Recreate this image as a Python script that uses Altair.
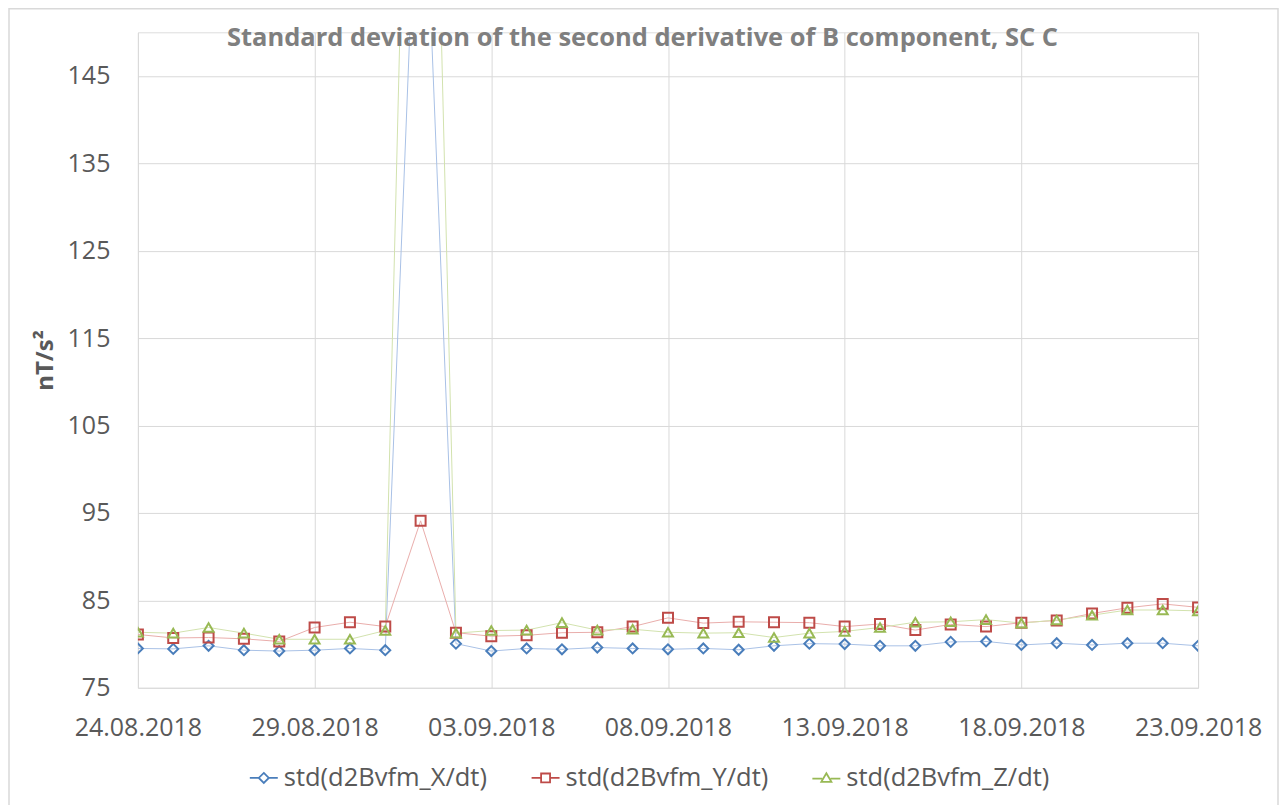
import altair as alt
import pandas as pd

# ---- data ----
dates = [d.strftime("%Y-%m-%d") for d in pd.date_range("2018-08-24", "2018-09-23", freq="D")]
series_names = ["std(d2Bvfm_X/dt)", "std(d2Bvfm_Y/dt)", "std(d2Bvfm_Z/dt)"]

x_vals = [79.5, 79.45, 79.8, 79.3, 79.2, 79.3, 79.5, 79.3, 181.0, 80.05,
          79.2, 79.5, 79.4, 79.6, 79.5, 79.4, 79.5, 79.35, 79.8, 80.05,
          80.0, 79.8, 79.8, 80.25, 80.3, 79.9, 80.1, 79.9, 80.1, 80.1, 79.8]
y_vals = [81.1, 80.7, 80.75, 80.6, 80.3, 81.9, 82.5, 82.0, 94.1, 81.3,
          80.9, 81.0, 81.3, 81.35, 82.0, 83.0, 82.4, 82.55, 82.5, 82.45,
          82.0, 82.3, 81.6, 82.25, 82.0, 82.45, 82.7, 83.5, 84.15, 84.6, 84.2]
z_vals = [81.35, 81.25, 81.9, 81.25, 80.55, 80.55, 80.55, 81.55, 247.0, 81.25,
          81.55, 81.6, 82.45, 81.6, 81.7, 81.35, 81.25, 81.3, 80.75, 81.25,
          81.45, 81.9, 82.5, 82.55, 82.8, 82.4, 82.75, 83.3, 83.9, 83.9, 83.8]

y_ticks = [75, 85, 95, 105, 115, 125, 135, 145]
x_tick_dates = ["2018-08-24", "2018-08-29", "2018-09-03", "2018-09-08",
                "2018-09-13", "2018-09-18", "2018-09-23"]
title_text = "Standard deviation of the second derivative of B component, SC C"

# ---- styles ----
FONT = "Open Sans"
TXT = "#595959"
GRID = "#D9D9D9"
line_colors = ["#A9C1E6", "#E9ADAB", "#D2E2AE"]
marker_colors = ["#4A7EBB", "#BE4B48", "#98B954"]
marker_shapes = ["diamond", "square", "triangle-up"]
legend_shapes = [
    "M-1,0L-0.36,0M0.36,0L1,0M0,-0.36L0.36,0L0,0.36L-0.36,0Z",
    "M-1,0L-0.32,0M0.32,0L1,0M-0.32,-0.32L0.32,-0.32L0.32,0.32L-0.32,0.32Z",
    "M-1,0.05L-0.3,0.05M0.3,0.05L1,0.05M0,-0.34L0.36,0.28L-0.36,0.28Z",
]

rows = []
for name, vals in zip(series_names, [x_vals, y_vals, z_vals]):
    for d, v in zip(dates, vals):
        rows.append({"date": d, "value": v, "series": name})
df = pd.DataFrame(rows)


def dt(s):
    y, m, d = (int(p) for p in s.split("-"))
    return alt.DateTime(year=y, month=m, date=d, utc=True)


x_enc = alt.X(
    "date:T",
    scale=alt.Scale(type="utc", domain=[dt(dates[0]), dt(dates[-1])], nice=False),
    axis=alt.Axis(
        values=[dt(s) for s in x_tick_dates],
        format="%d.%m.%Y",
        title=None,
        grid=True,
        gridColor=GRID,
        gridWidth=1,
        domain=False,
        ticks=False,
        labelFont=FONT,
        labelFontSize=25,
        labelColor=TXT,
        labelPadding=28,
        labelOverlap=False,
        labelFlush=False,
    ),
)
y_enc = alt.Y(
    "value:Q",
    scale=alt.Scale(domain=[75, 150], nice=False, zero=False),
    axis=alt.Axis(
        values=y_ticks,
        title="nT/s²",
        titleFont=FONT,
        titleFontSize=24,
        titleFontWeight="bold",
        titleColor=TXT,
        titlePadding=10,
        grid=True,
        gridColor=GRID,
        gridWidth=1,
        domain=False,
        ticks=False,
        labelFont=FONT,
        labelFontSize=25,
        labelColor=TXT,
        labelPadding=28,
    ),
)

base = alt.Chart(df)

lines = base.mark_line(strokeWidth=1, clip=True).encode(
    x=x_enc,
    y=y_enc,
    stroke=alt.Stroke("series:N", scale=alt.Scale(domain=series_names, range=line_colors), legend=None),
)

markers = base.mark_point(filled=False, size=100, strokeWidth=2, opacity=1, clip=True).encode(
    x=x_enc,
    y=y_enc,
    color=alt.Color("series:N", scale=alt.Scale(domain=series_names, range=marker_colors), legend=None),
    shape=alt.Shape("series:N", scale=alt.Scale(domain=series_names, range=marker_shapes), legend=None),
)

legend_props = dict(
    title=None,
    orient="none",
    legendX=111,
    legendY=731,
    direction="horizontal",
    symbolSize=784,
    symbolStrokeWidth=1.8,
    labelFont=FONT,
    labelFontSize=25.5,
    labelColor=TXT,
    labelOffset=5,
    labelLimit=500,
    columnPadding=40,
    padding=0,
)

legend_layer = base.transform_filter("false").mark_point(filled=False, strokeWidth=2, opacity=1).encode(
    x=x_enc,
    y=y_enc,
    color=alt.Color(
        "series:N",
        scale=alt.Scale(domain=series_names, range=marker_colors),
        legend=alt.Legend(**legend_props),
    ),
    shape=alt.Shape(
        "series:N",
        scale=alt.Scale(domain=series_names, range=legend_shapes),
        legend=alt.Legend(**legend_props),
    ),
)

frame = alt.Chart(alt.Data(values=[{"k": 1}])).mark_rect(
    fillOpacity=0, stroke="#D9D9D9", strokeWidth=1.5, clip=False
).encode(
    x=alt.value(-129), x2=alt.value(1141), y=alt.value(-23.5), y2=alt.value(820)
)

title = alt.Chart(alt.Data(values=[{"t": title_text}])).mark_text(
    font=FONT, fontSize=25.5, fontWeight="bold", color="#7F7F7F",
    align="center", baseline="alphabetic", clip=False,
).encode(
    text="t:N", x=alt.value(505), y=alt.value(14)
)

chart = (
    alt.layer(frame, lines, markers, legend_layer, title)
    .resolve_scale(color="independent", shape="independent", stroke="independent")
    .properties(
        width=1061,
        height=656,
        autosize=alt.AutoSizeParams(type="none"),
        padding={"left": 130, "top": 24, "right": 81, "bottom": 117},
    )
    .configure_view(stroke=None)
    .configure(background="white")
)

chart.save("out.html", embed_options={"renderer": "svg", "actions": False})
